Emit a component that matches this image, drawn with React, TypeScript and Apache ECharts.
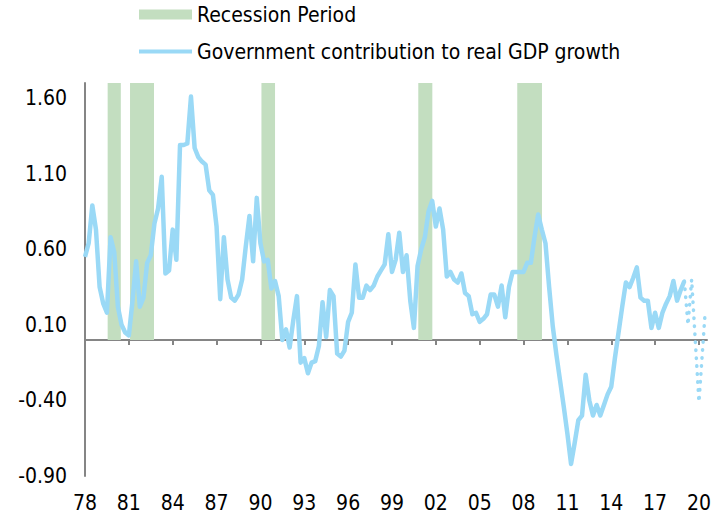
import React, { useEffect, useRef } from "react";
import * as echarts from "echarts";

const GOV_NAME = "Government contribution to real GDP growth";
const REC_NAME = "Recession Period";

// quarterly values starting 1978 Q1
const startYear = 1978;
const govValues = [
  0.55, 0.64, 0.89, 0.73, 0.35, 0.24, 0.18, 0.68, 0.58, 0.22,
  0.10, 0.05, 0.03, 0.26, 0.52, 0.22, 0.28, 0.51, 0.56, 0.77,
  0.87, 1.08, 0.44, 0.46, 0.73, 0.53, 1.29, 1.29, 1.30, 1.61,
  1.27, 1.21, 1.18, 1.16, 0.99, 0.96, 0.75, 0.27, 0.68, 0.40,
  0.28, 0.26, 0.30, 0.40, 0.62, 0.82, 0.52, 0.94, 0.64, 0.52,
  0.53, 0.34, 0.39, 0.29, 0.00, 0.07, -0.05, 0.13, 0.29, -0.15,
  -0.12, -0.22, -0.15, -0.14, -0.04, 0.25, 0.02, 0.33, 0.29, -0.09,
  -0.11, -0.07, 0.12, 0.18, 0.50, 0.28, 0.28, 0.36, 0.33, 0.36,
  0.42, 0.46, 0.50, 0.70, 0.45, 0.53, 0.71, 0.45, 0.56, 0.26,
  0.08, 0.49, 0.60, 0.68, 0.85, 0.92, 0.75, 0.87, 0.73, 0.42,
  0.45, 0.40, 0.38, 0.44, 0.31, 0.29, 0.17, 0.18, 0.12, 0.14,
  0.17, 0.30, 0.30, 0.22, 0.36, 0.15, 0.35, 0.45, 0.45, 0.45,
  0.45, 0.51, 0.51, 0.68, 0.83, 0.73, 0.64, 0.35, 0.09, -0.10,
  -0.27, -0.44, -0.62, -0.82, -0.68, -0.53, -0.50, -0.23, -0.40, -0.50,
  -0.43, -0.50, -0.43, -0.36, -0.31, -0.12, 0.05, 0.22, 0.38, 0.35,
  0.41, 0.48, 0.28, 0.26, 0.26, 0.08, 0.18, 0.08, 0.18, 0.24,
  0.29, 0.39, 0.26, 0.33, 0.39,
];

// dotted projection at the end
const projYears = [2019.0, 2019.25, 2019.5, 2020.0, 2020.4];
const projValues = [0.39, 0.1, 0.4, -0.41, 0.15];

// recession periods (decimal years)
const recessionStarts = [1979.55, 1981.08, 1990.07, 2000.8, 2007.57];
const recessionEnds = [1980.45, 1982.72, 1991.0, 2001.76, 2009.26];

const xTickYears = [1978, 1981, 1984, 1987, 1990, 1993, 1996, 1999, 2002, 2005, 2008, 2011, 2014, 2017, 2020];
const yTickValues = [-0.9, -0.4, 0.1, 0.6, 1.1, 1.6];

const FONT = '"Liberation Sans Narrow", "Arial Narrow", "DejaVu Sans Condensed", "Liberation Sans", Arial, sans-serif';
const LINE_COLOR = "#9AD9F6";
const REC_COLOR = "#C3DEC0";
const AXIS_COLOR = "#858585";

export default function App() {
  const ref = useRef<HTMLDivElement>(null);

  useEffect(() => {
    if (!ref.current) return;
    const chart = echarts.init(ref.current, undefined, { renderer: "svg" });

    const govData = govValues.map((v, i) => [startYear + i / 4, v]);
    const projData = projYears.map((y, i) => [y, projValues[i]]);
    const recAreas = recessionStarts.map((s, i) => [
      { xAxis: s, yAxis: 0 },
      { xAxis: recessionEnds[i], yAxis: 1.7 },
    ]);

    const xMin = 1978;
    const xMax = 2020.55;

    chart.setOption({
      animation: false,
      backgroundColor: "#fff",
      textStyle: { fontFamily: FONT },
      grid: { left: 85, right: 14, top: 83, bottom: 39, containLabel: false },
      legend: {
        orient: "vertical",
        left: 137,
        top: 4,
        padding: 0,
        itemWidth: 53,
        itemHeight: 10,
        itemGap: 16,
        textStyle: { fontSize: 21, fontFamily: FONT, color: "#000" },
        data: [
          { name: REC_NAME, icon: "rect" },
          { name: GOV_NAME, itemStyle: { opacity: 0 }, lineStyle: { width: 4, color: LINE_COLOR } },
        ],
      },
      xAxis: [
        {
          type: "value",
          min: xMin,
          max: xMax,
          position: "bottom",
          axisLine: { show: false, onZero: false },
          axisTick: { show: false },
          splitLine: { show: false },
          axisLabel: {
            customValues: xTickYears,
            fontSize: 21,
            fontFamily: FONT,
            color: "#000",
            margin: 16,
            formatter: (v: number) => {
              const y = Math.round(v) % 100;
              return y < 10 ? "0" + y : String(y);
            },
          },
        },
        {
          type: "value",
          min: xMin,
          max: xMax,
          position: "bottom",
          axisLine: { show: true, onZero: true, lineStyle: { color: AXIS_COLOR, width: 2 } },
          axisTick: { show: true, customValues: xTickYears, length: 5, lineStyle: { color: AXIS_COLOR, width: 2 } },
          axisLabel: { show: false },
          splitLine: { show: false },
        },
      ],
      yAxis: {
        type: "value",
        min: -0.9,
        max: 1.7,
        axisLine: { show: true, onZero: false, lineStyle: { color: AXIS_COLOR, width: 2 } },
        axisTick: { show: false },
        splitLine: { show: false },
        axisLabel: {
          customValues: yTickValues,
          fontSize: 21,
          fontFamily: FONT,
          color: "#000",
          margin: 18,
          formatter: (v: number) => v.toFixed(2),
        },
      },
      series: [
        {
          name: REC_NAME,
          type: "line",
          data: [],
          itemStyle: { color: REC_COLOR },
          lineStyle: { color: REC_COLOR },
          silent: true,
          z: 1,
          markArea: {
            silent: true,
            itemStyle: { color: REC_COLOR },
            data: recAreas,
          },
        },
        {
          name: GOV_NAME,
          type: "line",
          data: govData,
          symbol: "none",
          z: 3,
          lineStyle: { color: LINE_COLOR, width: 4.5, join: "round" },
          itemStyle: { color: LINE_COLOR },
        },
        {
          name: GOV_NAME,
          type: "line",
          data: projData,
          symbol: "none",
          z: 3,
          lineStyle: { color: LINE_COLOR, width: 3.5, type: [0.5, 7.5], cap: "round" },
          itemStyle: { color: LINE_COLOR },
        },
      ],
    });

    return () => chart.dispose();
  }, []);

  return <div ref={ref} style={{ width: 721, height: 515, position: "absolute", left: 0, top: 0 }} />;
}
